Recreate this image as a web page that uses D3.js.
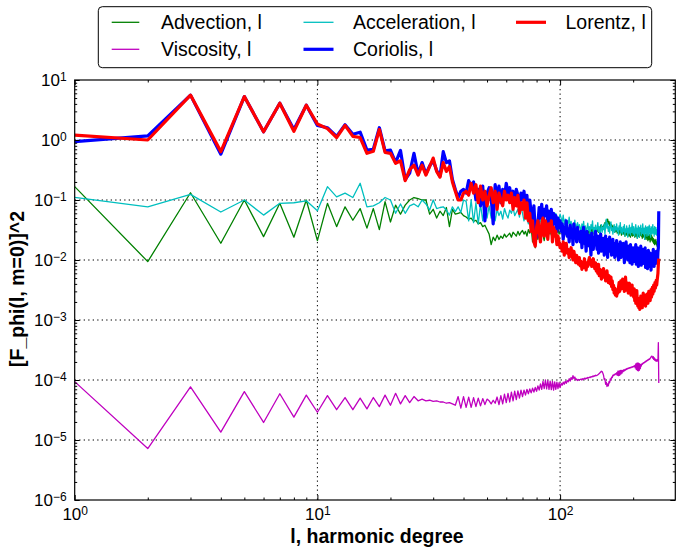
<!DOCTYPE html>
<html>
<head>
<meta charset="utf-8">
<script src="https://cdn.jsdelivr.net/npm/d3@7"></script>
<style>
  html, body { margin: 0; padding: 0; background: #fff; }
  svg { display: block; }
  text { font-family: "Liberation Sans", Arial, Helvetica, sans-serif; fill: #000; }
</style>
</head>
<body>
<svg id="chart" width="676" height="550"></svg>
<script>
// Spectra of the squared phi-force, one value per harmonic degree l = 1..255
const degreeMax = 255;

const advection = [
  0.167,0.0094,0.132,0.019,0.1,0.0245,0.088,0.024,0.1,0.021,
  0.088,0.036,0.077,0.046,0.072,0.034,0.072,0.032,0.094,0.043,
  0.082,0.058,0.082,0.1,0.11,0.105,0.1,0.1,0.058,0.07,
  0.05,0.065,0.055,0.075,0.036,0.07,0.058,0.06,0.062,0.055,
  0.052,0.048,0.05,0.044,0.046,0.04,0.042,0.036,0.038,0.032,
  0.027,0.018,0.024,0.021,0.026,0.022,0.025,0.023,0.027,0.024,
  0.026,0.028,0.024,0.029,0.027,0.025,0.03,0.026,0.029,0.031,
  0.027,0.03,0.025,0.032,0.028,0.035,0.02,0.033,0.016,0.03,
  0.022,0.028,0.024,0.03,0.026,0.021,0.029,0.025,0.032,0.027,
  0.03,0.026,0.033,0.028,0.031,0.025,0.029,0.034,0.027,0.03,
  0.032,0.027,0.035,0.029,0.031,0.026,0.033,0.028,0.03,0.025,
  0.029,0.034,0.027,0.031,0.024,0.03,0.033,0.028,0.032,0.027,
  0.03,0.026,0.033,0.029,0.025,0.031,0.028,0.034,0.027,0.03,
  0.028,0.032,0.026,0.03,0.035,0.029,0.033,0.027,0.031,0.028,
  0.033,0.03,0.036,0.029,0.034,0.031,0.038,0.033,0.036,0.032,
  0.038,0.035,0.042,0.039,0.046,0.043,0.048,0.04,0.044,0.037,
  0.041,0.036,0.039,0.033,0.037,0.031,0.035,0.029,0.034,0.03,
  0.032,0.028,0.034,0.03,0.027,0.033,0.029,0.031,0.026,0.03,
  0.028,0.032,0.027,0.03,0.025,0.031,0.028,0.026,0.03,0.027,
  0.029,0.025,0.031,0.027,0.024,0.03,0.026,0.028,0.025,0.029,
  0.026,0.03,0.024,0.028,0.025,0.029,0.027,0.023,0.028,0.025,
  0.027,0.024,0.029,0.026,0.031,0.025,0.028,0.023,0.027,0.024,
  0.026,0.029,0.023,0.027,0.025,0.022,0.026,0.028,0.024,0.021,
  0.025,0.022,0.027,0.023,0.02,0.025,0.022,0.026,0.021,0.024,
  0.02,0.023,0.019,0.022,0.018,0.021,0.019,0.022,0.018,0.02,
  0.017,0.019,0.016,0.018,0.017
];

const viscosity = [
  9.4e-5,7.2e-6,7.7e-5,1.35e-5,6.4e-5,1.96e-5,5.9e-5,2.4e-5,5.6e-5,2.9e-5,
  5.5e-5,3.2e-5,5.1e-5,3.2e-5,5e-5,3.3e-5,5.1e-5,3.6e-5,5.6e-5,3.8e-5,
  6e-5,4e-5,5.5e-5,4.2e-5,5.3e-5,4.5e-5,4.8e-5,4.5e-5,4.6e-5,4.4e-5,
  4.5e-5,4.3e-5,4.3e-5,4.1e-5,4.2e-5,4e-5,3.8e-5,5.3e-5,3.4e-5,5.3e-5,
  3.5e-5,5.2e-5,3.5e-5,5.1e-5,3.6e-5,5e-5,3.7e-5,4.9e-5,3.9e-5,4.8e-5,
  4.5e-5,4e-5,4.6e-5,4.1e-5,5.2e-5,3.9e-5,5.5e-5,4e-5,5.8e-5,4.2e-5,
  6e-5,4.3e-5,6.3e-5,4.5e-5,6.5e-5,4.7e-5,6.6e-5,5e-5,6.8e-5,5.3e-5,
  6.8e-5,5.6e-5,7e-5,5.9e-5,7.1e-5,6.1e-5,7.3e-5,6.3e-5,7.5e-5,6.5e-5,
  8e-5,6.8e-5,8.6e-5,7e-5,9.5e-5,7.2e-5,1e-4,7.1e-5,9.8e-5,7e-5,
  9.6e-5,6.9e-5,9.5e-5,6.8e-5,9.3e-5,7e-5,9.2e-5,7.2e-5,9e-5,7.5e-5,
  8.8e-5,8.2e-5,9.2e-5,8.5e-5,9.5e-5,8.8e-5,9.8e-5,9.3e-5,1.05e-4,9.6e-5,
  1.1e-4,1.02e-4,1.18e-4,1.06e-4,1.12e-4,1e-4,1.04e-4,9.8e-5,1.02e-4,1e-4,
  1.02e-4,1.04e-4,1e-4,1.05e-4,1.03e-4,1.07e-4,1.04e-4,1.08e-4,1.06e-4,1.1e-4,
  1.08e-4,1.12e-4,1.1e-4,1.14e-4,1.12e-4,1.16e-4,1.14e-4,1.18e-4,1.16e-4,1.2e-4,
  1.18e-4,1.2e-4,1.22e-4,1.25e-4,1.28e-4,1.32e-4,1.36e-4,1.4e-4,1.38e-4,1.3e-4,
  1.2e-4,1.02e-4,1.05e-4,8.5e-5,9.2e-5,7.8e-5,8.6e-5,8e-5,9.4e-5,9e-5,
  1.04e-4,1e-4,1.12e-4,1.1e-4,1.2e-4,1.18e-4,1.24e-4,1.22e-4,1.27e-4,1.25e-4,
  1.32e-4,1.2e-4,1.4e-4,1.18e-4,1.42e-4,1.2e-4,1.44e-4,1.25e-4,1.45e-4,1.3e-4,
  1.45e-4,1.38e-4,1.48e-4,1.42e-4,1.5e-4,1.46e-4,1.53e-4,1.5e-4,1.56e-4,1.53e-4,
  1.58e-4,1.56e-4,1.6e-4,1.58e-4,1.62e-4,1.6e-4,1.65e-4,1.63e-4,1.67e-4,1.65e-4,
  1.7e-4,1.68e-4,1.75e-4,1.6e-4,1.85e-4,1.5e-4,1.9e-4,1.45e-4,1.92e-4,1.42e-4,
  1.9e-4,1.45e-4,1.85e-4,1.55e-4,1.8e-4,1.7e-4,1.85e-4,1.82e-4,1.9e-4,1.88e-4,
  1.95e-4,1.93e-4,2e-4,1.98e-4,2.05e-4,2.02e-4,2.1e-4,2.08e-4,2.15e-4,2.12e-4,
  2.2e-4,2.18e-4,2.25e-4,2.22e-4,2.3e-4,2.35e-4,2.42e-4,2.48e-4,2.5e-4,2.4e-4,
  2.3e-4,2.45e-4,2.2e-4,2.35e-4,2.15e-4,2.25e-4,2.1e-4,2.2e-4,2.05e-4,2.15e-4,
  2.1e-4,2.2e-4,2.05e-4,4.2e-4,8.9e-5
];

const acceleration = [
  0.111,0.077,0.124,0.063,0.1,0.056,0.088,0.09,0.097,0.066,
  0.167,0.113,0.13,0.11,0.19,0.077,0.08,0.09,0.11,0.1,
  0.06,0.086,0.06,0.08,0.086,0.077,0.1,0.086,0.068,0.1,
  0.072,0.075,0.077,0.068,0.056,0.077,0.064,0.077,0.062,0.1,
  0.095,0.045,0.1,0.042,0.09,0.04,0.085,0.045,0.095,0.05,
  0.08,0.05,0.075,0.045,0.07,0.055,0.065,0.048,0.072,0.058,
  0.05,0.068,0.06,0.075,0.055,0.062,0.07,0.052,0.078,0.06,
  0.045,0.065,0.05,0.04,0.055,0.048,0.06,0.044,0.052,0.04,
  0.05,0.038,0.046,0.042,0.035,0.05,0.04,0.045,0.037,0.048,
  0.042,0.05,0.038,0.055,0.045,0.06,0.04,0.052,0.048,0.058,
  0.05,0.042,0.056,0.038,0.048,0.035,0.045,0.04,0.052,0.036,
  0.044,0.032,0.04,0.036,0.046,0.03,0.038,0.042,0.033,0.039,
  0.035,0.028,0.04,0.032,0.044,0.03,0.037,0.026,0.034,0.041,
  0.031,0.036,0.027,0.039,0.033,0.045,0.029,0.035,0.031,0.038,
  0.028,0.034,0.042,0.03,0.036,0.025,0.033,0.039,0.029,0.035,
  0.032,0.04,0.027,0.037,0.048,0.034,0.041,0.03,0.036,0.028,
  0.038,0.043,0.031,0.035,0.027,0.033,0.039,0.029,0.036,0.032,
  0.04,0.03,0.034,0.026,0.037,0.032,0.042,0.028,0.035,0.031,
  0.027,0.036,0.03,0.039,0.025,0.033,0.029,0.037,0.031,0.024,
  0.034,0.028,0.038,0.03,0.026,0.035,0.029,0.041,0.032,0.027,
  0.036,0.03,0.025,0.033,0.039,0.028,0.034,0.023,0.031,0.037,
  0.029,0.024,0.035,0.03,0.038,0.026,0.033,0.028,0.04,0.031,
  0.027,0.034,0.022,0.032,0.037,0.028,0.035,0.025,0.031,0.036,
  0.03,0.026,0.038,0.029,0.033,0.024,0.036,0.03,0.027,0.034,
  0.039,0.028,0.033,0.025,0.036,0.03,0.027,0.035,0.031,0.026,
  0.032,0.029,0.035,0.03,0.027
];

const coriolis = [
  0.94,1.17,5.6,0.58,5.3,1.37,4.1,1.5,3.8,1.75,
  1.6,1.15,1.8,1.25,1.35,0.68,0.7,1.6,0.66,0.68,
  0.42,0.67,0.22,0.28,0.6,0.27,0.42,0.27,0.37,0.45,
  0.31,0.25,0.64,0.42,0.45,0.22,0.15,0.11,0.14,0.15,
  0.13,0.21,0.17,0.2,0.1,0.15,0.08,0.17,0.045,0.13,
  0.16,0.11,0.04,0.18,0.12,0.17,0.09,0.15,0.11,0.19,
  0.13,0.16,0.1,0.14,0.09,0.15,0.12,0.08,0.13,0.1,
  0.14,0.07,0.12,0.05,0.1,0.06,0.045,0.08,0.03,0.024,
  0.04,0.075,0.05,0.085,0.04,0.07,0.055,0.08,0.035,0.065,
  0.045,0.07,0.03,0.06,0.04,0.055,0.03,0.05,0.035,0.045,
  0.03,0.04,0.022,0.035,0.028,0.045,0.025,0.033,0.02,0.038,
  0.027,0.032,0.018,0.04,0.025,0.03,0.02,0.035,0.024,0.028,
  0.02,0.03,0.016,0.026,0.035,0.019,0.024,0.014,0.03,0.021,
  0.026,0.017,0.022,0.012,0.028,0.019,0.015,0.024,0.018,0.03,
  0.02,0.015,0.025,0.013,0.022,0.018,0.027,0.014,0.021,0.016,
  0.023,0.012,0.019,0.025,0.015,0.02,0.011,0.022,0.017,0.024,
  0.014,0.02,0.012,0.018,0.022,0.013,0.017,0.011,0.019,0.015,
  0.021,0.012,0.016,0.01,0.018,0.014,0.02,0.011,0.015,0.017,
  0.012,0.019,0.014,0.009,0.016,0.013,0.02,0.011,0.015,0.01,
  0.017,0.012,0.014,0.009,0.018,0.011,0.015,0.0085,0.013,0.016,
  0.012,0.0095,0.015,0.011,0.018,0.0085,0.013,0.01,0.016,0.0078,
  0.012,0.009,0.014,0.0105,0.017,0.0082,0.013,0.0095,0.015,0.011,
  0.0088,0.014,0.0105,0.016,0.0075,0.012,0.0092,0.0135,0.0072,0.011,
  0.0145,0.009,0.012,0.0078,0.013,0.0095,0.0068,0.011,0.0085,0.0125,
  0.0092,0.015,0.0105,0.0078,0.013,0.0095,0.012,0.0088,0.014,0.0102,
  0.0125,0.009,0.0135,0.016,0.065
];

const lorentz = [
  1.21,1.0,5.6,0.64,5.3,1.37,4.1,1.4,3.8,1.85,
  1.55,1.1,1.75,1.15,1.1,0.6,0.65,1.5,0.62,0.6,
  0.41,0.45,0.21,0.32,0.38,0.26,0.38,0.26,0.36,0.5,
  0.3,0.24,0.42,0.3,0.36,0.2,0.14,0.1,0.1,0.13,
  0.14,0.12,0.19,0.13,0.18,0.09,0.17,0.1,0.14,0.08,
  0.12,0.16,0.09,0.14,0.07,0.13,0.1,0.08,0.14,0.1,
  0.12,0.09,0.13,0.07,0.11,0.08,0.12,0.06,0.09,0.07,
  0.1,0.05,0.09,0.045,0.06,0.03,0.045,0.02,0.017,0.035,
  0.045,0.03,0.02,0.04,0.05,0.025,0.045,0.035,0.022,0.04,
  0.03,0.045,0.02,0.035,0.025,0.03,0.018,0.025,0.02,0.016,
  0.018,0.014,0.02,0.012,0.016,0.019,0.013,0.015,0.011,0.014,
  0.016,0.012,0.01,0.014,0.011,0.009,0.012,0.01,0.0085,0.011,
  0.008,0.0095,0.007,0.0088,0.0075,0.0105,0.008,0.0068,0.009,0.0078,
  0.0095,0.011,0.0085,0.01,0.0078,0.0092,0.0105,0.0082,0.0072,0.009,
  0.0065,0.0078,0.006,0.0085,0.0055,0.007,0.0062,0.0048,0.0068,0.0058,
  0.0072,0.0052,0.0063,0.0045,0.0058,0.0066,0.005,0.0042,0.0055,0.0048,
  0.004,0.0052,0.0036,0.0045,0.0032,0.0038,0.0028,0.0034,0.0026,0.003,
  0.0025,0.0032,0.0028,0.0035,0.0042,0.003,0.0038,0.0045,0.0033,0.004,
  0.0048,0.0036,0.0044,0.003,0.0039,0.0052,0.0035,0.0042,0.0031,0.0037,
  0.0028,0.0034,0.0041,0.0029,0.0036,0.0026,0.0032,0.0038,0.0027,0.003,
  0.0024,0.0033,0.0021,0.0028,0.0019,0.0025,0.0031,0.002,0.0017,0.0023,
  0.0016,0.0021,0.0015,0.0019,0.0025,0.0018,0.0022,0.0016,0.002,0.0028,
  0.0022,0.0018,0.0026,0.0021,0.0017,0.0024,0.002,0.0027,0.0023,0.0019,
  0.0025,0.003,0.0022,0.0028,0.0021,0.0026,0.0032,0.0024,0.0029,0.0035,
  0.0027,0.0033,0.0038,0.003,0.0036,0.0042,0.0034,0.004,0.0046,0.0038,
  0.0045,0.0052,0.006,0.0085,0.0105
];

const seriesLabels = ["Advection, l", "Viscosity, l", "Acceleration, l", "Coriolis, l", "Lorentz, l"];
const xTickExponents = [0, 1, 2];
const yTickExponents = [-6, -5, -4, -3, -2, -1, 0, 1];
const xLabel = "l, harmonic degree";
const yLabel = "[F_phi(l, m=0)]^2";

// ---- layout ----
const svg = d3.select("#chart");
const plot = { left: 74.7, right: 675.3, top: 80, bottom: 500 };

const x = d3.scaleLog().domain([1, 298.3]).range([plot.left, plot.right]);
const y = d3.scaleLog().domain([1e-6, 10]).range([plot.bottom, plot.top]);

const degrees = d3.range(1, degreeMax + 1);

const series = [
  { label: seriesLabels[0], values: advection,    color: "#008000", width: 1.3 },
  { label: seriesLabels[1], values: viscosity,    color: "#bf00bf", width: 1.3 },
  { label: seriesLabels[2], values: acceleration, color: "#00bfbf", width: 1.3 },
  { label: seriesLabels[3], values: coriolis,     color: "#0000ff", width: 3.2 },
  { label: seriesLabels[4], values: lorentz,      color: "#ff0000", width: 3.2 }
];

// minor tick positions: 2..9 times each decade
function minorTicks(lo, hi, scale) {
  const out = [];
  for (let e = lo; e < hi; e++) {
    for (let m = 2; m <= 9; m++) {
      const v = m * Math.pow(10, e);
      const [d0, d1] = scale.domain();
      if (v > d0 && v < d1) out.push(v);
    }
  }
  return out;
}
const xMajors = xTickExponents.map(e => Math.pow(10, e));
const yMajors = yTickExponents.map(e => Math.pow(10, e));
const xMinors = minorTicks(0, 3, x);
const yMinors = minorTicks(-6, 1, y);

// ---- grid (dotted) ----
const grid = svg.append("g").attr("stroke", "#000").attr("stroke-width", 1)
  .attr("stroke-dasharray", "1.3,3.2").attr("fill", "none");
grid.selectAll("line.gx").data(xMajors.filter(v => v > 1)).join("line")
  .attr("x1", d => x(d)).attr("x2", d => x(d))
  .attr("y1", plot.top).attr("y2", plot.bottom);
grid.selectAll("line.gy").data(yMajors.filter(v => v > 1e-6 && v < 10)).join("line")
  .attr("y1", d => y(d)).attr("y2", d => y(d))
  .attr("x1", plot.left).attr("x2", plot.right);

// ---- data lines ----
svg.append("defs").append("clipPath").attr("id", "plotClip")
  .append("rect").attr("x", plot.left).attr("y", plot.top)
  .attr("width", plot.right - plot.left).attr("height", plot.bottom - plot.top);

const line = d3.line().x((d, i) => x(degrees[i])).y(d => y(d));
svg.append("g").attr("clip-path", "url(#plotClip)")
  .selectAll("path").data(series).join("path")
  .attr("d", d => line(d.values))
  .attr("fill", "none")
  .attr("stroke", d => d.color)
  .attr("stroke-width", d => d.width)
  .attr("stroke-linejoin", "round");

// ---- axes: inward ticks on all four sides ----
function styleAxis(g) {
  g.select(".domain").remove();
  g.selectAll(".tick line").attr("stroke", "#000").attr("stroke-width", 1);
}
function powerLabel(sel, exps) {
  sel.selectAll(".tick text").each(function (d, i) {
    const t = d3.select(this).text(null).attr("font-size", 17).attr("fill", "#000");
    t.append("tspan").text("10");
    const e = exps[i];
    t.append("tspan").attr("dy", "-0.45em").attr("font-size", 12)
      .text(e < 0 ? "\u2212" + Math.abs(e) : String(e));
  });
}

const gxb = svg.append("g").attr("transform", `translate(0,${plot.bottom})`)
  .call(d3.axisBottom(x).tickValues(xMajors).tickSizeInner(-5).tickSizeOuter(0).tickPadding(8));
styleAxis(gxb); powerLabel(gxb, xTickExponents);
gxb.selectAll(".tick text").attr("font-family", "Liberation Sans, Arial, sans-serif");

const gxbm = svg.append("g").attr("transform", `translate(0,${plot.bottom})`)
  .call(d3.axisBottom(x).tickValues(xMinors).tickSizeInner(-2.5).tickSizeOuter(0).tickFormat(""));
styleAxis(gxbm);

const gxt = svg.append("g").attr("transform", `translate(0,${plot.top})`)
  .call(d3.axisTop(x).tickValues(xMajors).tickSizeInner(-5).tickSizeOuter(0).tickFormat(""));
styleAxis(gxt);
const gxtm = svg.append("g").attr("transform", `translate(0,${plot.top})`)
  .call(d3.axisTop(x).tickValues(xMinors).tickSizeInner(-2.5).tickSizeOuter(0).tickFormat(""));
styleAxis(gxtm);

const gyl = svg.append("g").attr("transform", `translate(${plot.left},0)`)
  .call(d3.axisLeft(y).tickValues(yMajors).tickSizeInner(-5).tickSizeOuter(0).tickPadding(8));
styleAxis(gyl); powerLabel(gyl, yTickExponents);

const gylm = svg.append("g").attr("transform", `translate(${plot.left},0)`)
  .call(d3.axisLeft(y).tickValues(yMinors).tickSizeInner(-2.5).tickSizeOuter(0).tickFormat(""));
styleAxis(gylm);

const gyr = svg.append("g").attr("transform", `translate(${plot.right},0)`)
  .call(d3.axisRight(y).tickValues(yMajors).tickSizeInner(-5).tickSizeOuter(0).tickFormat(""));
styleAxis(gyr);
const gyrm = svg.append("g").attr("transform", `translate(${plot.right},0)`)
  .call(d3.axisRight(y).tickValues(yMinors).tickSizeInner(-2.5).tickSizeOuter(0).tickFormat(""));
styleAxis(gyrm);

// frame
svg.append("rect")
  .attr("x", plot.left).attr("y", plot.top)
  .attr("width", plot.right - plot.left).attr("height", plot.bottom - plot.top)
  .attr("fill", "none").attr("stroke", "#000").attr("stroke-width", 1.2);

// ---- axis titles ----
svg.append("text")
  .attr("x", 377).attr("y", 543)
  .attr("text-anchor", "middle").attr("font-size", 19.5).attr("font-weight", "bold")
  .text(xLabel);
svg.append("text")
  .attr("transform", "translate(24,289) rotate(-90)")
  .attr("text-anchor", "middle").attr("font-size", 19.5).attr("font-weight", "bold")
  .text(yLabel);

// ---- legend: three columns, filled column by column ----
const legend = svg.append("g");
legend.append("rect")
  .attr("x", 98.3).attr("y", 6.7).attr("width", 553.4).attr("height", 61)
  .attr("rx", 4).attr("fill", "#fff").attr("stroke", "#000").attr("stroke-width", 1);
const colX = [111.7, 303.5, 516];
const rowY = [22.3, 49.3];
const items = legend.selectAll("g.item").data(series).join("g")
  .attr("transform", (d, i) => `translate(${colX[Math.floor(i / 2)]},${rowY[i % 2]})`);
items.append("line")
  .attr("x1", 0).attr("x2", (d, i) => i < 2 ? 27.6 : 30)
  .attr("y1", 0).attr("y2", 0)
  .attr("stroke", d => d.color).attr("stroke-width", d => d.width);
items.append("text")
  .attr("x", (d, i) => i < 2 ? 49.3 : 49.5)
  .attr("y", 7).attr("font-size", 19.5)
  .text(d => d.label);
</script>
</body>
</html>
